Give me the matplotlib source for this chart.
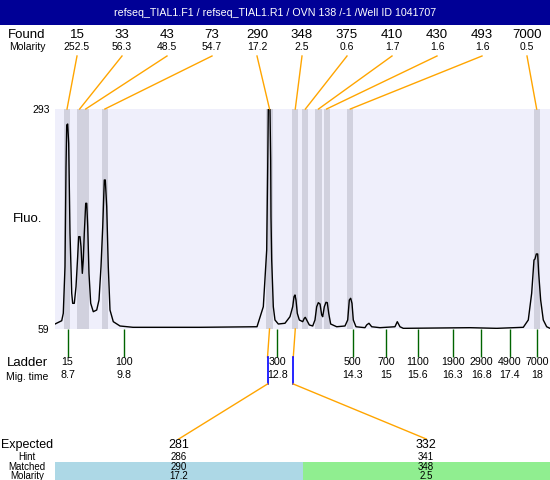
import matplotlib
matplotlib.use("Agg")
import matplotlib.pyplot as plt
from matplotlib.patches import Rectangle

plt.rcParams['font.family'] = ['Liberation Sans', 'DejaVu Sans']

title = "refseq_TIAL1.F1 / refseq_TIAL1.R1 / OVN 138 /-1 /Well ID 1041707"

# electropherogram (migration time, fluorescence)
trace_t = [8.462, 8.595, 8.626, 8.660, 8.680, 8.694, 8.713, 8.733, 8.759, 8.793,
           8.812, 8.844, 8.878, 8.911, 8.931, 8.957, 8.977, 9.003, 9.022, 9.042,
           9.070, 9.090, 9.110, 9.135, 9.169, 9.220, 9.288, 9.333, 9.373, 9.407,
           9.438, 9.458, 9.486, 9.517, 9.551, 9.616, 9.749, 10.007, 11.333, 12.462,
           12.587, 12.654, 12.674, 12.686, 12.719, 12.733, 12.739, 12.753, 12.785, 12.818,
           12.884, 13.016, 13.115, 13.169, 13.195, 13.214, 13.234, 13.260, 13.300, 13.367,
           13.399, 13.418, 13.446, 13.498, 13.565, 13.610, 13.644, 13.676, 13.710, 13.743,
           13.763, 13.795, 13.828, 13.854, 13.882, 13.921, 14.040, 14.204, 14.258, 14.290,
           14.317, 14.343, 14.369, 14.422, 14.600, 14.634, 14.679, 14.733, 14.897, 15.194,
           15.240, 15.293, 15.359, 16.680, 17.209, 17.735, 17.834, 17.901, 17.947, 17.967,
           17.993, 18.020, 18.040, 18.079, 18.131, 18.198, 18.264]
trace_f = [64.3, 67.8, 75.7, 125.3, 231.6, 276.0, 277.0, 256.5, 160.8, 97.0,
           86.3, 86.3, 104.0, 135.9, 157.2, 157.2, 146.5, 118.2, 132.4, 160.8,
           192.7, 192.7, 167.8, 118.2, 86.3, 77.4, 79.2, 89.8, 125.3, 167.8,
           217.5, 217.5, 189.1, 125.3, 79.2, 66.8, 62.2, 60.8, 60.8, 61.4,
           82.7, 143.0, 231.6, 292.7, 292.7, 238.7, 178.4, 132.4, 82.7, 68.6,
           64.3, 65.1, 72.1, 82.7, 93.4, 95.2, 89.8, 75.7, 68.6, 66.8,
           70.4, 71.4, 68.6, 63.3, 62.2, 68.6, 82.7, 87.0, 85.6, 73.9,
           72.1, 82.7, 87.4, 87.0, 75.7, 64.3, 61.4, 62.2, 68.6, 89.8,
           91.7, 86.3, 68.6, 61.4, 60.4, 63.3, 65.1, 61.4, 60.4, 61.4,
           66.8, 61.4, 59.7, 60.4, 59.7, 60.8, 68.6, 97.0, 132.4, 133.5,
           138.8, 138.8, 118.2, 89.8, 68.6, 61.4, 59.7]

found_size = ["15", "33", "43", "73", "290", "348", "375", "410", "430", "493", "7000"]
found_molarity = ["252.5", "56.3", "48.5", "54.7", "17.2", "2.5", "0.6", "1.7", "1.6", "1.6", "0.5"]
found_time = [8.70, 8.95, 9.07, 9.45, 12.71, 13.22, 13.42, 13.68, 13.84, 14.31, 18.00]

ladder_size = ["15", "100", "300", "500", "700", "1100", "1900", "2900", "4900", "7000"]
ladder_mig = ["8.7", "9.8", "12.8", "14.3", "15", "15.6", "16.3", "16.8", "17.4", "18"]
ladder_time = [8.71, 9.82, 12.86, 14.36, 15.02, 15.65, 16.34, 16.90, 17.47, 18.01]

expected = ["281", "332"]
hint = ["286", "341"]
matched = ["290", "348"]
matched_molarity = ["17.2", "2.5"]
matched_idx = [4, 5]
matched_colors = ["#add8e6", "#90ee90"]

fig = plt.figure(figsize=(5.5, 4.8), dpi=100)

# === trace panel ===
ax = fig.add_axes([55 / 550, (480 - 329) / 480, 495 / 550, 220 / 480])
ax.set_facecolor("#efeffb")
for t in found_time:
    ax.axvspan(t - 0.06, t + 0.06, color="#d1d1de", lw=0)
ax.plot(trace_t, trace_f, color="black", lw=1)
ax.set_xlim(8.462, 18.264)
ax.set_ylim(59, 293)
for s in ax.spines.values():
    s.set_visible(False)
ax.set_yticks([59, 293], labels=["59", "293"])
ax.tick_params(axis="y", length=0, pad=4, labelsize=7.5)
ax.set_xticks(ladder_time, labels=[f"{s}\n{m}" for s, m in zip(ladder_size, ladder_mig)])
ax.tick_params(axis="x", direction="out", length=20, width=1, color="#006400",
               pad=0.5, labelsize=7.7)
for lab in ax.get_xticklabels():
    lab.set_linespacing(1.3)
ax.set_ylabel("Fluo.", rotation=0, fontsize=9.5, va="center", ha="center")
ax.yaxis.set_label_coords(-27 / 495, 0.5)

# === overlay in pixel units ===
ov = fig.add_axes([0, 0, 1, 1])
ov.set_xlim(0, 550)
ov.set_ylim(480, 0)
ov.axis("off")


def to_px(t, f):
    return ov.transData.inverted().transform(ax.transData.transform((t, f)))


ov.add_patch(Rectangle((0, 0), 550, 25, color="#000096", lw=0))
ov.text(275, 12.5, title, color="white", fontsize=7.7, ha="center", va="center")

ov.text(27, 35, "Found", fontsize=9.5, ha="center", va="center")
ov.text(27, 47, "Molarity", fontsize=7.5, ha="center", va="center")
for i, (s, m, t) in enumerate(zip(found_size, found_molarity, found_time)):
    lx = 77 + 45 * i
    ov.text(lx, 35, s, fontsize=9.5, ha="center", va="center")
    ov.text(lx, 47, m, fontsize=7.5, ha="center", va="center")
    px, py = to_px(t, 293)
    ov.plot([lx, px], [56, py], color="orange", lw=1)

ov.text(27, 363, "Ladder", fontsize=9.5, ha="center", va="center")
ov.text(27, 377, "Mig. time", fontsize=7.5, ha="center", va="center")

# matched peaks -> expected sizes
col_w = 495 / len(expected)
for k, idx in enumerate(matched_idx):
    px, py = to_px(found_time[idx], 59)
    cx = 55 + col_w * (k + 0.5)
    ov.plot([px, px - 2], [py, 357], color="orange", lw=1)
    ov.plot([px - 2, px - 2], [357, 384], color="blue", lw=1.2)
    ov.plot([px - 2, cx], [384, 439], color="orange", lw=1)
    ov.add_patch(Rectangle((55 + col_w * k, 462), col_w, 18, color=matched_colors[k], lw=0))
    ov.text(cx, 445, expected[k], fontsize=9, ha="center", va="center")
    ov.text(cx, 457, hint[k], fontsize=7, ha="center", va="center")
    ov.text(cx, 467, matched[k], fontsize=7, ha="center", va="center")
    ov.text(cx, 476, matched_molarity[k], fontsize=7, ha="center", va="center")

ov.text(27, 445, "Expected", fontsize=9, ha="center", va="center")
ov.text(27, 457, "Hint", fontsize=7, ha="center", va="center")
ov.text(27, 467, "Matched", fontsize=7, ha="center", va="center")
ov.text(27, 476, "Molarity", fontsize=7, ha="center", va="center")

fig.savefig("out.png", dpi=100)
